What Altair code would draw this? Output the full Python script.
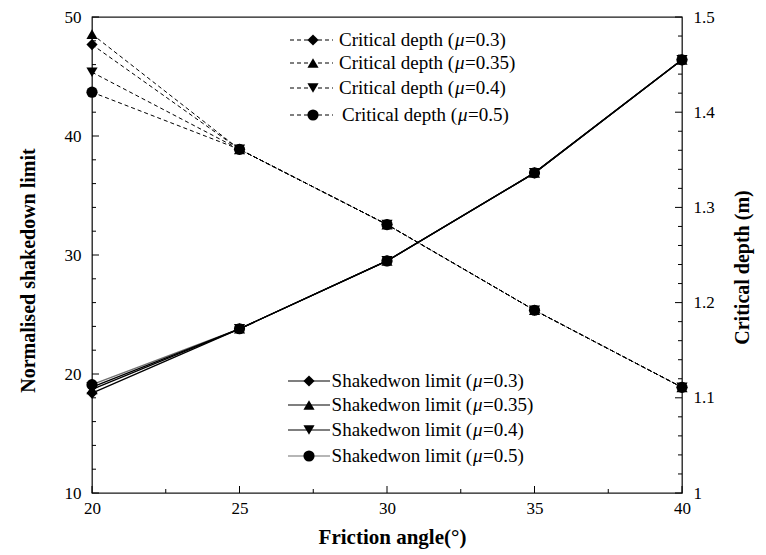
import altair as alt
import pandas as pd

# ---------------- data ----------------
angles = [20, 25, 30, 35, 40]
mu_labels = ["0.3", "0.35", "0.4", "0.5"]
shapes = ["diamond", "triangle-up", "triangle-down", "circle"]

shake_03 = [18.4, 23.8, 29.5, 36.9, 46.4]
shake_035 = [18.7, 23.8, 29.5, 36.9, 46.4]
shake_04 = [18.9, 23.8, 29.5, 36.9, 46.4]
shake_05 = [19.1, 23.8, 29.5, 36.9, 46.4]

depth_03 = [1.471, 1.361, 1.282, 1.192, 1.111]
depth_035 = [1.482, 1.361, 1.282, 1.192, 1.111]
depth_04 = [1.442, 1.361, 1.282, 1.192, 1.111]
depth_05 = [1.421, 1.361, 1.282, 1.192, 1.111]

x_major = [20, 25, 30, 35, 40]
x_minor = [22.5, 27.5, 32.5, 37.5]
left_major = [10, 20, 30, 40, 50]
left_minor = [12, 14, 16, 18, 22, 24, 26, 28, 32, 34, 36, 38, 42, 44, 46, 48]
right_major = [1.0, 1.1, 1.2, 1.3, 1.4, 1.5]
right_minor = [1.02, 1.04, 1.06, 1.08, 1.12, 1.14, 1.16, 1.18, 1.22, 1.24, 1.26, 1.28,
               1.32, 1.34, 1.36, 1.38, 1.42, 1.44, 1.46, 1.48]

shake_series = [shake_03, shake_035, shake_04, shake_05]
depth_series = [depth_03, depth_035, depth_04, depth_05]
shake_colors = ["black", "black", "black", "#6e6e6e"]

W, H = 590, 476
FONT = "Liberation Serif"

# ---------------- scales / axes ----------------
xscale = alt.Scale(domain=[20, 40], nice=False, zero=False)
lscale = alt.Scale(domain=[10, 50], nice=False, zero=False)
rscale = alt.Scale(domain=[1, 1.5], nice=False, zero=False)

x_axis = alt.Axis(values=x_major, title="Friction angle(°)", ticks=False, domain=False,
                  grid=False, labelPadding=7, labelFontSize=17, labelColor="black",
                  labelFlush=False, labelOverlap=False,
                  titleFontSize=21, titleFontWeight="bold", titleColor="black",
                  titleX=300, titleY=44, titleBaseline="middle", titleAlign="center")
l_axis = alt.Axis(values=left_major, title="Normalised shakedown limit", orient="left",
                  ticks=False, domain=False, grid=False, labelPadding=11,
                  labelFontSize=17, labelColor="black", labelFlush=False, labelOverlap=False,
                  titleFontSize=20, titleFontWeight="bold", titleColor="black",
                  titleAngle=270, titleX=-64, titleY=253, titleAlign="center",
                  titleBaseline="middle")
r_axis = alt.Axis(values=right_major, format=".1~f", title="Critical depth (m)",
                  orient="right", ticks=False, domain=False, grid=False, labelPadding=11,
                  labelFontSize=17, labelColor="black", labelFlush=False, labelOverlap=False,
                  titleFontSize=20, titleFontWeight="bold", titleColor="black",
                  titleAngle=270, titleX=60, titleY=250, titleAlign="center",
                  titleBaseline="middle")

X = alt.X("angle:Q", scale=xscale, axis=x_axis)

one = pd.DataFrame({"k": [0]})

# ---------------- left group: shakedown ----------------
left_layers = []
for vals, mu, shp, col in reversed(list(zip(shake_series, mu_labels, shapes, shake_colors))):
    df = pd.DataFrame({"angle": angles, "v": vals})
    base = alt.Chart(df)
    left_layers.append(base.mark_line(color=col, strokeWidth=1.3).encode(
        x=X, y=alt.Y("v:Q", scale=lscale, axis=l_axis)))
    left_layers.append(base.mark_point(shape=shp, filled=True, size=125, color="black",
                                       opacity=1).encode(
        x=X, y=alt.Y("v:Q", scale=lscale, axis=l_axis)))

# left ticks (inward)
ldf_maj = pd.DataFrame({"v": left_major})
ldf_min = pd.DataFrame({"v": left_minor})
left_layers.append(alt.Chart(ldf_maj).mark_rule(color="black", strokeWidth=1).encode(
    x=alt.value(0), x2=alt.value(7), y=alt.Y("v:Q", scale=lscale, axis=l_axis)))
left_layers.append(alt.Chart(ldf_min).mark_rule(color="black", strokeWidth=1).encode(
    x=alt.value(0), x2=alt.value(4), y=alt.Y("v:Q", scale=lscale, axis=l_axis)))

# x ticks (inward)
xdf_maj = pd.DataFrame({"angle": x_major})
xdf_min = pd.DataFrame({"angle": x_minor})
left_layers.append(alt.Chart(xdf_maj).mark_rule(color="black", strokeWidth=1).encode(
    x=X, y=alt.value(H), y2=alt.value(H - 7)))
left_layers.append(alt.Chart(xdf_min).mark_rule(color="black", strokeWidth=1).encode(
    x=X, y=alt.value(H), y2=alt.value(H - 4)))


# ---------------- legends (manual) ----------------
def legend_entry(row_y, x0, x1, xm, shape, dash, color, prefix, mu, x_mu):
    base = alt.Chart(one)
    rule_kw = dict(color=color, strokeWidth=1.2)
    if dash:
        rule_kw["strokeDash"] = dash
    layers = [
        base.mark_rule(**rule_kw).encode(x=alt.value(x0), x2=alt.value(x1), y=alt.value(row_y)),
        base.mark_point(shape=shape, filled=True, size=125, color="black", opacity=1).encode(
            x=alt.value(xm), y=alt.value(row_y)),
        base.mark_text(align="right", baseline="middle", fontSize=19, font=FONT,
                       color="black").encode(
            x=alt.value(x_mu - 1), y=alt.value(row_y), text=alt.value(prefix)),
        base.mark_text(align="left", baseline="middle", fontSize=19, font=FONT,
                       fontStyle="italic", color="black").encode(
            x=alt.value(x_mu), y=alt.value(row_y), text=alt.value("μ")),
        base.mark_text(align="left", baseline="middle", fontSize=19, font=FONT,
                       color="black").encode(
            x=alt.value(x_mu + 10), y=alt.value(row_y), text=alt.value("=" + mu + ")")),
    ]
    return layers


top_rows = [23, 46, 71, 98]
bot_rows = [364, 388, 413, 439]
legend_layers = []
for i, (mu, shp) in enumerate(zip(mu_labels, shapes)):
    legend_layers += legend_entry(top_rows[i], 198, 241, 221, shp, [4, 3], "black",
                                  "Critical depth (", mu, 363 + (3 if i == 3 else 0))
for i, (mu, shp) in enumerate(zip(mu_labels, shapes)):
    legend_layers += legend_entry(bot_rows[i], 196, 238, 217, shp, None, shake_colors[i],
                                  "Shakedwon limit (", mu, 381)

left = alt.layer(*left_layers, *legend_layers)

# ---------------- right group: critical depth ----------------
right_layers = []
for vals, mu, shp in zip(depth_series, mu_labels, shapes):
    df = pd.DataFrame({"angle": angles, "v": vals})
    base = alt.Chart(df)
    right_layers.append(base.mark_line(color="black", strokeWidth=1, strokeDash=[4, 3]).encode(
        x=X, y=alt.Y("v:Q", scale=rscale, axis=r_axis)))
    right_layers.append(base.mark_point(shape=shp, filled=True, size=125, color="black",
                                        opacity=1).encode(
        x=X, y=alt.Y("v:Q", scale=rscale, axis=r_axis)))

rdf_maj = pd.DataFrame({"v": right_major})
rdf_min = pd.DataFrame({"v": right_minor})
right_layers.append(alt.Chart(rdf_maj).mark_rule(color="black", strokeWidth=1).encode(
    x=alt.value(W - 7), x2=alt.value(W), y=alt.Y("v:Q", scale=rscale, axis=r_axis)))
right_layers.append(alt.Chart(rdf_min).mark_rule(color="black", strokeWidth=1).encode(
    x=alt.value(W - 4), x2=alt.value(W), y=alt.Y("v:Q", scale=rscale, axis=r_axis)))

right = alt.layer(*right_layers)

chart = alt.layer(left, right).resolve_scale(y="independent").properties(
    width=W, height=H,
    autosize=alt.AutoSizeParams(type="none"),
    padding={"left": 84, "top": 9, "right": 76, "bottom": 62},
    background="white",
).configure(font=FONT).configure_view(stroke="#1a1a1a", strokeWidth=1.3)

chart.save("out.html", embed_options={"renderer": "svg", "actions": False})
